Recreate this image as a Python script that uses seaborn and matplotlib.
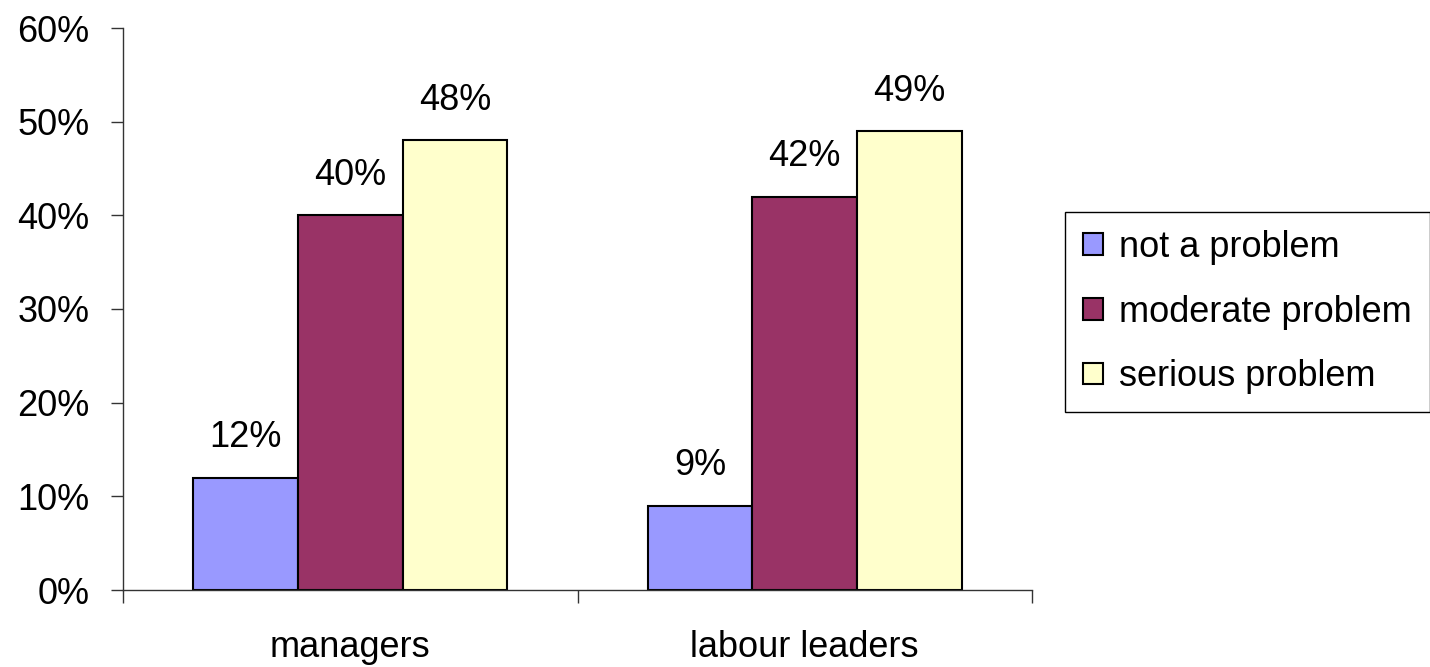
import matplotlib
matplotlib.use("Agg")
import matplotlib.pyplot as plt
import seaborn as sns
import pandas as pd
from matplotlib.ticker import FixedLocator, FuncFormatter

groups = ["managers", "labour leaders"]
responses = ["not a problem", "moderate problem", "serious problem"]
not_a_problem = [12, 9]
moderate_problem = [40, 42]
serious_problem = [48, 49]
colors = ["#9999FF", "#993366", "#FFFFCC"]
y_ticks = [0, 10, 20, 30, 40, 50, 60]

rows = []
for resp, vals in zip(responses, [not_a_problem, moderate_problem, serious_problem]):
    for g, v in zip(groups, vals):
        rows.append({"group": g, "response": resp, "value": v})
df = pd.DataFrame(rows)

sns.set_theme(style="white")
plt.rcParams["font.family"] = ["Liberation Sans", "DejaVu Sans"]
plt.rcParams["text.color"] = "black"
plt.rcParams["xtick.color"] = "black"
plt.rcParams["ytick.color"] = "black"

FS = 26

fig = plt.figure(figsize=(14.3, 6.67), dpi=100)
ax = fig.add_axes([123 / 1430, 1 - 590 / 667, (1032 - 123) / 1430, (590 - 28) / 667])

sns.barplot(data=df, x="group", y="value", hue="response", order=groups,
            hue_order=responses, palette=colors, width=0.69,
            edgecolor="black", linewidth=1.5, saturation=1, ax=ax, legend=True)

for container in ax.containers:
    ax.bar_label(container, labels=[f"{v:.0f}%" for v in container.datavalues],
                 padding=16, fontsize=FS, color="black")

ax.set_xlim(-0.5, 1.5)
ax.set_ylim(0, 60)
ax.yaxis.set_major_locator(FixedLocator(y_ticks))
ax.yaxis.set_major_formatter(FuncFormatter(lambda v, _: f"{v:.0f}%"))
ax.tick_params(axis="y", which="major", left=True, length=9, width=1,
               color="#333333", labelsize=FS, labelcolor="black", pad=15)

# category boundary ticks on the x axis
ax.set_xticks([0, 1])
ax.set_xticklabels(groups, fontsize=FS, color="black")
ax.tick_params(axis="x", which="major", bottom=False, pad=23)
ax.set_xticks([-0.5, 0.5, 1.5], minor=True)
ax.tick_params(axis="x", which="minor", bottom=True, length=9, width=1, color="#333333")

ax.set_xlabel("")
ax.set_ylabel("")
for s in ["top", "right"]:
    ax.spines[s].set_visible(False)
for s in ["left", "bottom"]:
    ax.spines[s].set_color("#333333")
    ax.spines[s].set_linewidth(1)

handles, labels = ax.get_legend_handles_labels()
ax.legend_.remove()
leg = fig.legend(handles, labels, loc="upper left",
                 bbox_to_anchor=(1065 / 1430, 1 - 212 / 667),
                 fontsize=FS, frameon=True, fancybox=False, framealpha=1,
                 edgecolor="black", handlelength=0.55, handleheight=0.55,
                 handletextpad=0.45, labelspacing=0.82, borderpad=0.5,
                 borderaxespad=0)
leg.get_frame().set_linewidth(1)
for t in leg.get_texts():
    t.set_color("black")
for h in leg.legend_handles:
    h.set_edgecolor("black")
    h.set_linewidth(1.5)

fig.savefig("out.png", dpi=100, facecolor="white")
